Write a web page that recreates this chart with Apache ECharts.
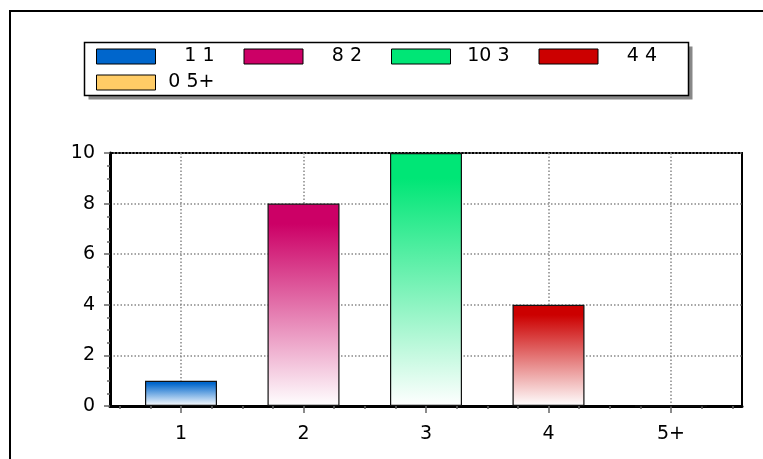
<!DOCTYPE html>
<html>
<head>
<meta charset="utf-8">
<script src="https://cdn.jsdelivr.net/npm/echarts@6/dist/echarts.min.js"></script>
<style>
  html, body { margin: 0; padding: 0; background: #fff; }
  #chart { width: 763px; height: 459px; }
</style>
</head>
<body>
<div id="chart"></div>
<script>
// Categories and their counts
const categories = ['1', '2', '3', '4', '5+'];
const counts = [1, 8, 10, 4, 0];
const colors = ['#0066CC', '#CC0066', '#00E676', '#CC0000', '#FFCC66'];
const yTicks = [0, 2, 4, 6, 8, 10];

const FONT = 'DejaVu Sans';
const FONT_SIZE = 19;

// Plot frame (left/right/top/bottom in px)
const frame = { left: 110, right: 21, top: 153, bottom: 53 };
// Category band: centers 122.5 px apart
const band = { left: 119.75, right: 30.75 };

function fade(c) {
  return new echarts.graphic.LinearGradient(0, 0, 0, 1, [
    { offset: 0, color: c },
    { offset: 0.1, color: c },
    { offset: 1, color: '#ffffff' }
  ]);
}

const series = categories.map((cat, i) => ({
  name: cat,
  type: 'bar',
  xAxisIndex: 0,
  yAxisIndex: 0,
  stack: 'all',
  barWidth: 72,
  data: categories.map((c, j) => (j === i ? counts[i] : null)),
  itemStyle: {
    color: fade(colors[i]),
    borderColor: '#111',
    borderWidth: 1.2
  },
  z: 3
}));

function legendItem(i) {
  return {
    name: categories[i],
    itemStyle: { color: colors[i], borderColor: '#000', borderWidth: 1 }
  };
}

const legendBase = {
  orient: 'horizontal', padding: 0,
  itemWidth: 59, itemHeight: 15, itemGap: 29, icon: 'rect',
  selectedMode: false, z: 5,
  formatter: name => '{t|' + counts[categories.indexOf(name)] + ' ' + name + '}',
  textStyle: {
    rich: { t: { width: 54, align: 'right', fontFamily: FONT, fontSize: FONT_SIZE, color: '#000' } }
  }
};

const option = {
  animation: false,
  backgroundColor: '#fff',
  graphic: [
    {
      type: 'rect', z: 0, silent: true,
      shape: { x: 10, y: 11, width: 800, height: 500 },
      style: { fill: 'none', stroke: '#000', lineWidth: 2 }
    },
    {
      // legend box drop shadow
      type: 'rect', z: 1, silent: true,
      shape: { x: 88.5, y: 46.5, width: 604, height: 53 },
      style: { fill: '#888', stroke: 'none' }
    },
    {
      type: 'rect', z: 1, silent: true,
      shape: { x: 84.5, y: 42.5, width: 604, height: 53 },
      style: { fill: '#fff', stroke: '#000', lineWidth: 1.5 }
    }
  ],
  legend: [
    Object.assign({ left: 96, top: 47, data: [0, 1, 2, 3].map(legendItem) }, legendBase),
    Object.assign({ left: 96, top: 73, data: [4].map(legendItem) }, legendBase)
  ],
  grid: [
    // bars
    { left: band.left, right: band.right, top: frame.top, bottom: frame.bottom },
    // frame with value axis
    { left: frame.left, right: frame.right, top: frame.top, bottom: frame.bottom,
      show: true, backgroundColor: 'transparent', borderColor: '#000', borderWidth: 2 },
    // vertical grid lines through category centers
    { left: 181, right: 92, top: frame.top, bottom: frame.bottom }
  ],
  xAxis: [
    {
      gridIndex: 0, type: 'category', data: categories, boundaryGap: true,
      axisLine: { show: false },
      axisTick: { show: true, alignWithLabel: true, length: 7, lineStyle: { color: '#666', width: 1.5 } },
      axisLabel: { fontFamily: FONT, fontSize: FONT_SIZE, color: '#000', margin: 19 },
      splitLine: { show: false }
    },
    {
      gridIndex: 1, type: 'value', min: 0, max: 1,
      axisLine: { show: true, lineStyle: { color: '#000', width: 3 } },
      axisTick: { show: false }, axisLabel: { show: false }, splitLine: { show: false }
    },
    {
      gridIndex: 2, type: 'category', data: categories, boundaryGap: false,
      axisLine: { show: false }, axisTick: { show: false }, axisLabel: { show: false },
      splitLine: { show: true, lineStyle: { color: '#888', width: 1.5, type: [1.5, 2] } }
    },
    {
      // quarter-step minor ticks under the category band
      gridIndex: 0, type: 'value', min: 0.5, max: 5.5, interval: 0.25, position: 'bottom',
      axisLine: { show: false },
      axisTick: { show: true, length: 3, lineStyle: { color: '#666', width: 1.5 } },
      axisLabel: { show: false }, splitLine: { show: false }
    }
  ],
  yAxis: [
    { gridIndex: 0, type: 'value', min: 0, max: 10, show: false },
    {
      gridIndex: 1, type: 'value', min: yTicks[0], max: yTicks[yTicks.length - 1], interval: 2,
      axisLine: { show: true, lineStyle: { color: '#000', width: 3 } },
      axisTick: { show: true, length: 6, lineStyle: { color: '#666', width: 1.5 } },
      minorTick: { show: true, splitNumber: 4, length: 3, lineStyle: { color: '#666', width: 1.5 } },
      axisLabel: { fontFamily: FONT, fontSize: FONT_SIZE, color: '#000', margin: 15 },
      splitLine: { show: true, lineStyle: { color: '#888', width: 1.5, type: [1.5, 2] } }
    },
    { gridIndex: 2, type: 'value', min: 0, max: 10, show: false }
  ],
  series: series
};

const chart = echarts.init(document.getElementById('chart'), null, { renderer: 'canvas' });
chart.setOption(option);
</script>
</body>
</html>
